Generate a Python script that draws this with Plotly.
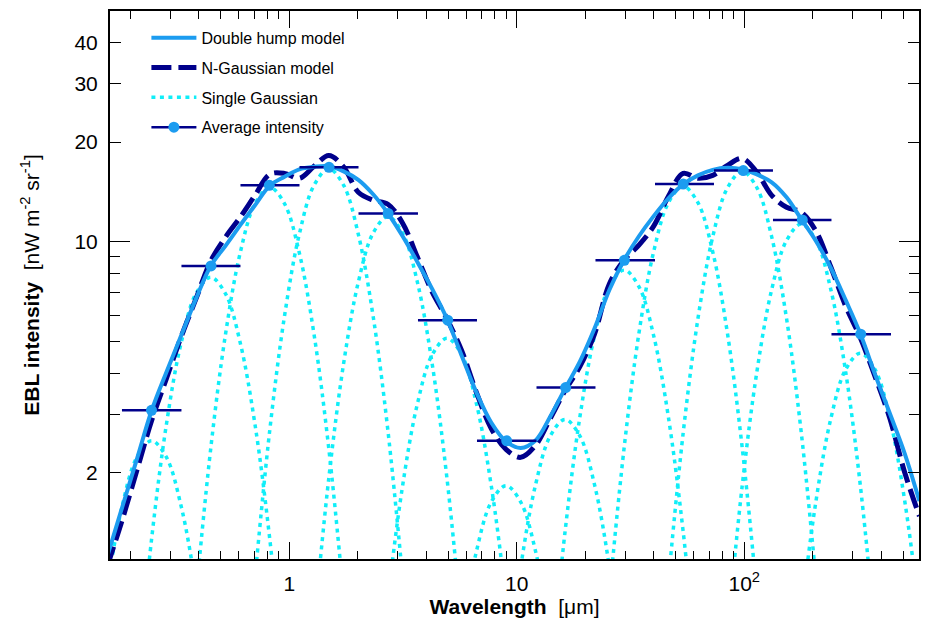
import plotly.graph_objects as go

# ---------------- data ----------------
# log-spaced wavelength grid (um) on which curves were read
wl_grid = [0.1013, 0.1176, 0.1366, 0.1586, 0.1842, 0.2139, 0.2483, 0.2883, 0.3348, 0.3888,
           0.4515, 0.5243, 0.6088, 0.7069, 0.8207, 0.9530, 1.1066, 1.2850, 1.492, 1.7325,
           2.0117, 2.336, 2.713, 3.150, 3.657, 4.247, 4.932, 5.727, 6.650, 7.722,
           8.967, 10.41, 12.09, 14.04, 16.30, 18.93, 21.98, 25.52, 29.64, 34.42,
           39.96, 46.41, 53.88, 62.57, 72.65, 84.36, 97.95, 113.7, 132.0, 153.4,
           178.1, 206.8, 240.1, 278.8, 323.7, 375.9, 436.5, 506.9, 588.6, 683.4]

# Double hump model (on wl_grid[3:59])
double_hump = [1.121, 1.572, 2.200, 3.087, 4.031, 5.200, 6.712, 8.437, 9.712, 11.21,
               12.88, 14.75, 15.70, 16.54, 16.83, 16.89, 16.31, 15.37, 13.90, 12.18,
               10.38, 8.677, 7.193, 5.842, 4.520, 3.498, 2.840, 2.489, 2.379, 2.506,
               2.960, 3.595, 4.335, 5.470, 7.143, 8.796, 10.38, 11.94, 13.52, 14.90,
               15.86, 16.48, 16.71, 16.54, 15.97, 15.11, 13.61, 11.69, 10.03, 8.323,
               6.665, 5.266, 3.962, 3.022, 2.291, 1.642]

# N-Gaussian model (on wl_grid[3:59])
n_gaussian = [1.046, 1.439, 2.035, 2.880, 3.853, 5.157, 6.712, 8.736, 10.31, 11.85,
              13.80, 15.97, 16.08, 15.54, 16.89, 18.22, 16.83, 14.10, 13.34, 12.97,
              11.37, 8.981, 7.045, 5.842, 4.679, 3.498, 2.724, 2.355, 2.228, 2.422,
              2.920, 3.545, 4.188, 5.266, 7.447, 8.796, 9.761, 11.14, 13.71, 16.08,
              15.54, 15.86, 17.00, 17.84, 16.19, 13.80, 12.70, 12.27, 10.75, 8.381,
              6.393, 5.121, 3.907, 2.920, 2.008, 1.480]

# Single Gaussians: 11 values each, centred on wl_grid[6 + 4k]
single_gaussians = [
    [0.145, 0.405, 0.898, 1.585, 2.23, 2.5, 2.23, 1.585, 0.898, 0.405, 0.145],
    [0.452, 1.264, 2.80, 4.945, 6.958, 7.8, 6.958, 4.945, 2.80, 1.264, 0.452],
    [0.847, 2.365, 5.241, 9.256, 13.02, 14.6, 13.02, 9.256, 5.241, 2.365, 0.847],
    [0.963, 2.689, 5.959, 10.52, 14.81, 16.6, 14.81, 10.52, 5.959, 2.689, 0.963],
    [0.690, 1.928, 4.272, 7.545, 10.61, 11.9, 10.61, 7.545, 4.272, 1.928, 0.690],
    [0.296, 0.826, 1.831, 3.233, 4.549, 5.1, 4.549, 3.233, 1.831, 0.826, 0.296],
    [0.106, 0.296, 0.657, 1.160, 1.632, 1.83, 1.632, 1.160, 0.657, 0.296, 0.106],
    [0.168, 0.470, 1.041, 1.839, 2.587, 2.9, 2.587, 1.839, 1.041, 0.470, 0.168],
    [0.476, 1.328, 2.944, 5.199, 7.314, 8.2, 7.314, 5.199, 2.944, 1.328, 0.476],
    [0.853, 2.381, 5.277, 9.320, 13.11, 14.7, 13.11, 9.320, 5.277, 2.381, 0.853],
    [0.945, 2.641, 5.852, 10.33, 14.54, 16.3, 14.54, 10.33, 5.852, 2.641, 0.945],
    [0.655, 1.831, 4.057, 7.164, 10.08, 11.3, 10.08, 7.164, 4.057, 1.831, 0.655],
    [0.267, 0.745, 1.651, 2.916, 4.103, 4.6, 4.103, 2.916, 1.651, 0.745, 0.267],
]

# Average intensity points
avg_wl = [0.248, 0.453, 0.817, 1.495, 2.72, 4.97, 9.03, 16.4, 29.7, 53.9, 99.0, 179.9, 324.9]
avg_int = [3.09, 8.44, 14.8, 16.77, 12.16, 5.79, 2.50, 3.62, 8.78, 14.93, 16.39, 11.63, 5.25]
bin_edges = [0.1839, 0.3358, 0.6102, 1.109, 2.015, 3.679, 6.685, 12.21, 22.18, 40.51,
             73.59, 133.7, 241.7, 441.5]

# tick labels
x_tickvals = [1, 10, 100]
x_ticktext = ["1", "10", "10<sup>2</sup>"]
y_tickvals = [2, 10, 20, 30, 40]
y_ticktext = ["2", "10", "20", "30", "40"]

# ---------------- styles ----------------
C_SOLID = "#1C9CF0"
C_NAVY = "#00008B"
C_CYAN = "#10EEF8"
FONT = "Liberation Sans, Arial, Helvetica, sans-serif"

fig = go.Figure()

model_wl = wl_grid[3:59]

for k, vals in enumerate(single_gaussians):
    c = 6 + 4 * k
    fig.add_trace(go.Scatter(
        x=wl_grid[c - 5:c + 6], y=vals, mode="lines",
        line=dict(color=C_CYAN, width=3.5, dash="4px,4.5px", shape="spline"),
        name="Single Gaussian", legendgroup="sg", showlegend=(k == 0),
        legendrank=3, hoverinfo="skip"))

fig.add_trace(go.Scatter(
    x=model_wl, y=n_gaussian, mode="lines",
    line=dict(color=C_NAVY, width=5, dash="20px,7px", shape="spline"),
    name="N-Gaussian model", legendgroup="ng", legendrank=2))

fig.add_trace(go.Scatter(
    x=model_wl, y=double_hump, mode="lines",
    line=dict(color=C_SOLID, width=4, shape="spline"),
    name="Double hump model", legendgroup="dh", legendrank=1))

err_plus = [hi - x for hi, x in zip(bin_edges[1:], avg_wl)]
err_minus = [x - lo for lo, x in zip(bin_edges[:-1], avg_wl)]
fig.add_trace(go.Scatter(
    x=avg_wl, y=avg_int, mode="markers",
    marker=dict(color=C_SOLID, size=11),
    error_x=dict(type="data", array=err_plus, arrayminus=err_minus,
                 color=C_NAVY, thickness=2.5, width=0),
    name="Average intensity", legendgroup="avg", showlegend=False))

# legend entry for the average intensity (line + dot symbol)
fig.add_trace(go.Scatter(
    x=[None], y=[None], yaxis="y2", mode="lines+markers",
    line=dict(color=C_NAVY, width=2.5), marker=dict(color=C_SOLID, size=11),
    name="Average intensity", legendgroup="avg", legendrank=4))

x_minor = [m * d for d in (0.1, 1, 10, 100) for m in range(2, 10)]
y_minor = list(range(3, 10))
y_range = [0.0407, 1.697]

fig.update_layout(
    width=932, height=627,
    margin=dict(l=110, r=13, t=9, b=68),
    plot_bgcolor="white", paper_bgcolor="white",
    font=dict(family=FONT, size=21, color="black"),
    xaxis=dict(
        type="log", range=[-0.788, 2.768],
        tickvals=x_tickvals, ticktext=x_ticktext, tickfont=dict(size=21),
        ticks="inside", ticklen=17, tickwidth=1.3, tickcolor="black",
        minor=dict(tickvals=x_minor, ticks="inside", ticklen=8, tickwidth=1.1, tickcolor="black"),
        showline=True, linewidth=2, linecolor="black", mirror="ticks",
        showgrid=False, zeroline=False, ticklabelstandoff=5,
        title=dict(text="<b>Wavelength</b>&nbsp; [\u03bcm]", font=dict(size=21), standoff=2),
    ),
    yaxis=dict(
        type="log", range=y_range,
        tickvals=y_tickvals, ticktext=y_ticktext, tickfont=dict(size=21),
        ticks="inside", ticklen=11, tickwidth=1.3, tickcolor="black",
        minor=dict(tickvals=y_minor, ticks="inside", ticklen=10, tickwidth=1.1, tickcolor="black"),
        showline=True, linewidth=2, linecolor="black", mirror="ticks",
        showgrid=False, zeroline=False, ticklabelstandoff=6,
        title=dict(text="<b>EBL intensity</b>&nbsp; [nW m<sup>-2</sup> sr<sup>-1</sup>]",
                   font=dict(size=21), standoff=29),
    ),
    yaxis2=dict(
        type="log", range=y_range, overlaying="y", anchor="x", side="left",
        tickvals=[10], ticks="inside", ticklen=20, tickwidth=1.3, tickcolor="black",
        showticklabels=False, showgrid=False, zeroline=False, showline=False, mirror="ticks",
    ),
    legend=dict(
        x=0.045, y=0.982, xanchor="left", yanchor="top",
        bgcolor="rgba(0,0,0,0)", font=dict(size=16), tracegroupgap=6,
        itemwidth=45, traceorder="grouped",
    ),
    showlegend=True,
)

fig.write_html("out.html")
